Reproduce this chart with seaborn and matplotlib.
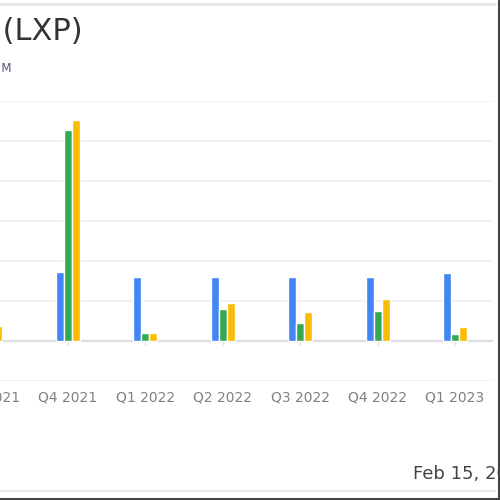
import matplotlib
matplotlib.use("Agg")
import matplotlib.pyplot as plt
from matplotlib.lines import Line2D
import numpy as np
import pandas as pd
import seaborn as sns

# ---------------------------------------------------------------------------
# Data (USD millions)
# ---------------------------------------------------------------------------
quarters = ["Q3 2021", "Q4 2021", "Q1 2022", "Q2 2022", "Q3 2022", "Q4 2022", "Q1 2023"]
revenue = [85, 86, 80, 80, 80, 80, 85]
net_income = [12, 264, 10, 40, 22, 38, 9]
ebitda = [19, 276, 10, 48, 36, 52, 18]

series_names = ["Revenue", "Net Income", "EBITDA"]
colors = ["#4285F4", "#34A853", "#FBBC04"]

df = pd.DataFrame({
    "quarter": quarters * 3,
    "value": revenue + net_income + ebitda,
    "series": np.repeat(series_names, len(quarters)),
})

# ---------------------------------------------------------------------------
# Figure
# ---------------------------------------------------------------------------
sns.set_theme(style="white")
plt.rcParams["font.family"] = ["DejaVu Sans"]

fig = plt.figure(figsize=(5, 5), dpi=100)
fig.patch.set_facecolor("white")

# axes runs a little past the left edge so the first group's label is cut like the reference
ax = fig.add_axes([-20 / 500, 119 / 500, 513 / 500, 280 / 500])
sns.barplot(
    data=df, x="quarter", y="value", hue="series",
    palette=colors, width=0.31, gap=0, saturation=1,
    legend=False, ax=ax, zorder=3,
)

ax.set_ylim(-50, 300)
ax.set_yticks(np.arange(-50, 301, 50))
ax.yaxis.grid(True, color="#f0f0f0", linewidth=1.2)
ax.set_axisbelow(True)
ax.axhline(0, color="#dcdde3", linewidth=1.6, zorder=2)
ax.vlines(np.arange(len(quarters)), -5, 0, color="#e0e0e0", linewidth=1, zorder=2)

ax.set_xlim(-0.1355, 6.49)
ax.set_xlabel("")
ax.set_ylabel("")
ax.set_yticklabels([])
ax.tick_params(axis="x", length=0, pad=7, labelsize=10, labelcolor="#808080")
ax.tick_params(axis="y", length=0)
for spine in ax.spines.values():
    spine.set_visible(False)

# header and footer text
fig.text(83 / 500, 1 - 31 / 500, "LXP Industrial Trust (LXP)", ha="right", va="center",
         fontsize=22, color="#333333")
fig.text(12 / 500, 1 - 68 / 500, "in USD M", ha="right", va="center",
         fontsize=8.5, color="#55557a")
fig.text(413 / 500, 1 - 474 / 500, "Feb 15, 2024", ha="left", va="center",
         fontsize=13, color="#444444")

# card borders
fig.add_artist(Line2D([0, 495 / 500], [1 - 4 / 500] * 2, color="#e6e6e6", linewidth=2.2))
fig.add_artist(Line2D([0, 495 / 500], [1 - 491 / 500] * 2, color="#e6e6e6", linewidth=1.5))
fig.add_artist(Line2D([498.5 / 500] * 2, [0, 1], color="#444444", linewidth=2.2))
fig.add_artist(Line2D([0, 1], [1.5 / 500] * 2, color="#444444", linewidth=2.2))

fig.savefig("out.png", dpi=100, facecolor="white")
